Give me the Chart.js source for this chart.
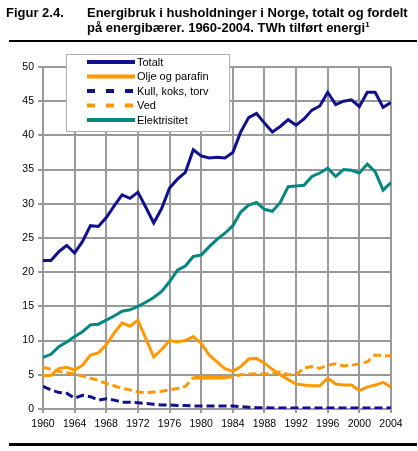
<!DOCTYPE html>
<html>
<head>
<meta charset="utf-8">
<script src="https://cdn.jsdelivr.net/npm/chart.js@4"></script>
<style>
  body { margin: 0; background: #fff; }
  #wrap { position: relative; width: 418px; height: 451px; overflow: hidden; }
  canvas { position: absolute; left: 0; top: 0; }
  .title { position: absolute; top: 5px; font: bold 13px "Liberation Sans", Arial, sans-serif; line-height: 15px; color: #000; white-space: nowrap; }
  .title sup { font-size: 8px; line-height: 0; vertical-align: 5px; }
  .rule { position: absolute; left: 9px; width: 408px; height: 2px; background: #000; }
</style>
</head>
<body>
<div id="wrap">
  <canvas id="myChart" width="418" height="451"></canvas>
  <div class="title" style="left:6px">Figur 2.4.</div>
  <div class="title" style="left:87px">Energibruk i husholdninger i Norge, totalt og fordelt<br>på energibærer. 1960-2004. TWh tilført energi<sup>1</sup></div>
  <div class="rule" style="top:40px"></div>
  <div class="rule" style="top:443px; height:3px"></div>
</div>
<script>
const years = [1960, 1961, 1962, 1963, 1964, 1965, 1966, 1967, 1968, 1969,
  1970, 1971, 1972, 1973, 1974, 1975, 1976, 1977, 1978, 1979,
  1980, 1981, 1982, 1983, 1984, 1985, 1986, 1987, 1988, 1989,
  1990, 1991, 1992, 1993, 1994, 1995, 1996, 1997, 1998, 1999,
  2000, 2001, 2002, 2003, 2004]

const totalt = [21.7, 21.7, 23.0, 23.9, 22.8, 24.5, 26.8, 26.7, 28.0, 29.7,
  31.3, 30.8, 31.7, 29.5, 27.2, 29.3, 32.3, 33.6, 34.6, 37.9,
  37.0, 36.7, 36.8, 36.7, 37.5, 40.5, 42.6, 43.2, 41.8, 40.5,
  41.3, 42.3, 41.5, 42.4, 43.7, 44.3, 46.3, 44.5, 45.0, 45.2,
  44.2, 46.3, 46.3, 44.1, 44.8]

const olje = [4.9, 4.9, 5.9, 6.1, 5.7, 6.4, 7.9, 8.2, 9.4, 11.1,
  12.6, 12.1, 13.0, 10.3, 7.6, 8.7, 10.0, 9.8, 10.0, 10.6,
  9.6, 7.9, 6.9, 5.9, 5.5, 6.2, 7.3, 7.4, 6.7, 5.8,
  5.0, 4.3, 3.65, 3.5, 3.4, 3.4, 4.5, 3.65, 3.5, 3.5,
  2.7, 3.2, 3.5, 3.9, 3.2]

const kull = [3.3, 2.8, 2.4, 2.3, 1.6, 2.0, 1.8, 1.3, 1.5, 1.3,
  1.0, 1.0, 0.9, 0.8, 0.7, 0.6, 0.6, 0.5, 0.5, 0.45,
  0.45, 0.45, 0.45, 0.45, 0.45, 0.35, 0.25, 0.2, 0.2, 0.15,
  0.15, 0.15, 0.15, 0.15, 0.15, 0.15, 0.15, 0.15, 0.15, 0.15,
  0.15, 0.15, 0.15, 0.15, 0.15]

const ved = [6.1, 5.8, 5.5, 5.3, 5.1, 4.8, 4.5, 4.2, 3.7, 3.4,
  3.0, 2.8, 2.5, 2.4, 2.5, 2.6, 2.8, 3.0, 3.3, 4.6,
  4.6, 4.6, 4.6, 4.6, 4.7, 5.0, 5.1, 5.1, 5.1, 5.2,
  5.45, 5.0, 5.0, 6.0, 6.2, 5.95, 6.4, 6.6, 6.3, 6.4,
  6.6, 6.9, 7.9, 7.8, 7.8]

const elektrisitet = [7.55, 8.0, 9.1, 9.8, 10.6, 11.3, 12.3, 12.4, 13.0, 13.6,
  14.3, 14.5, 15.0, 15.6, 16.3, 17.2, 18.6, 20.3, 20.9, 22.3,
  22.5, 23.7, 24.8, 25.7, 26.8, 28.8, 29.8, 30.2, 29.2, 28.9,
  30.2, 32.5, 32.6, 32.7, 34.0, 34.5, 35.2, 34.0, 35.0, 34.9,
  34.5, 35.8, 34.7, 32.0, 33.1]

const navy = '#10108c'
const orange = '#ff9900'
const teal = '#00877f'
const gridGray = '#999999'
const font = { family: '"Liberation Sans", Arial, sans-serif', size: 10.5 }

const pts = vals => vals.map((v, i) => ({ x: years[i], y: v }))

// legend sits partly above the plot, so draw it ourselves
const legendBox = {
  id: 'legendBox',
  afterDraw(chart) {
    const c = chart.ctx
    c.save()
    c.fillStyle = '#fff'
    c.fillRect(66, 54, 164, 78)
    c.strokeStyle = '#b0b0b0'
    c.lineWidth = 1
    c.strokeRect(66.5, 54.5, 163, 77)
    c.font = '11px "Liberation Sans", Arial, sans-serif'
    c.textBaseline = 'middle'
    chart.data.datasets.forEach((ds, i) => {
      const y = 62 + i * 14.5
      c.strokeStyle = ds.borderColor
      c.lineWidth = 4
      c.lineCap = 'butt'
      c.setLineDash(ds.borderDash && ds.borderDash.length ? [8, 11] : [])
      c.beginPath()
      c.moveTo(87, y)
      c.lineTo(135, y)
      c.stroke()
      c.setLineDash([])
      c.fillStyle = '#000'
      c.fillText(ds.label, 137, y + 0.5)
    })
    c.restore()
  }
}

const data = {
  datasets: [
    { label: 'Totalt', data: pts(totalt), borderColor: navy, borderWidth: 3 },
    { label: 'Olje og parafin', data: pts(olje), borderColor: orange, borderWidth: 3 },
    { label: 'Kull, koks, torv', data: pts(kull), borderColor: navy, borderWidth: 3, borderDash: [8, 4] },
    {
      label: 'Ved', data: pts(ved), borderColor: orange, borderWidth: 3, borderDash: [8, 4],
      segment: {
        borderDash: ctx => (years[ctx.p0DataIndex] >= 1979 && years[ctx.p1DataIndex] <= 1983) ? [] : undefined,
        borderWidth: ctx => (years[ctx.p0DataIndex] >= 1979 && years[ctx.p1DataIndex] <= 1983) ? 4 : undefined
      }
    },
    { label: 'Elektrisitet', data: pts(elektrisitet), borderColor: teal, borderWidth: 3 }
  ]
}

const config = {
  type: 'line',
  data: data,
  options: {
    responsive: false,
    animation: false,
    layout: { padding: { top: 67, right: 27, left: 0, bottom: 0 } },
    elements: { point: { radius: 0 }, line: { tension: 0, borderCapStyle: 'butt' } },
    plugins: { legend: { display: false }, tooltip: { enabled: false } },
    scales: {
      x: {
        type: 'linear',
        min: 1960,
        max: 2004,
        afterFit: s => { s.height = 42 },
        ticks: { stepSize: 4, padding: 5, color: '#000', font: font, maxRotation: 0, callback: v => String(v) },
        grid: { color: gridGray, lineWidth: 2, tickLength: 4 },
        border: { color: gridGray, width: 2 }
      },
      y: {
        min: 0,
        max: 50,
        afterFit: s => { s.width = 43 },
        ticks: { stepSize: 5, padding: 4, color: '#000', font: font },
        grid: { color: gridGray, lineWidth: 2, tickLength: 5 },
        border: { color: gridGray, width: 2 }
      }
    }
  },
  plugins: [legendBox]
}

const myChart = new Chart(document.querySelector('#myChart'), config)
</script>
</body>
</html>
